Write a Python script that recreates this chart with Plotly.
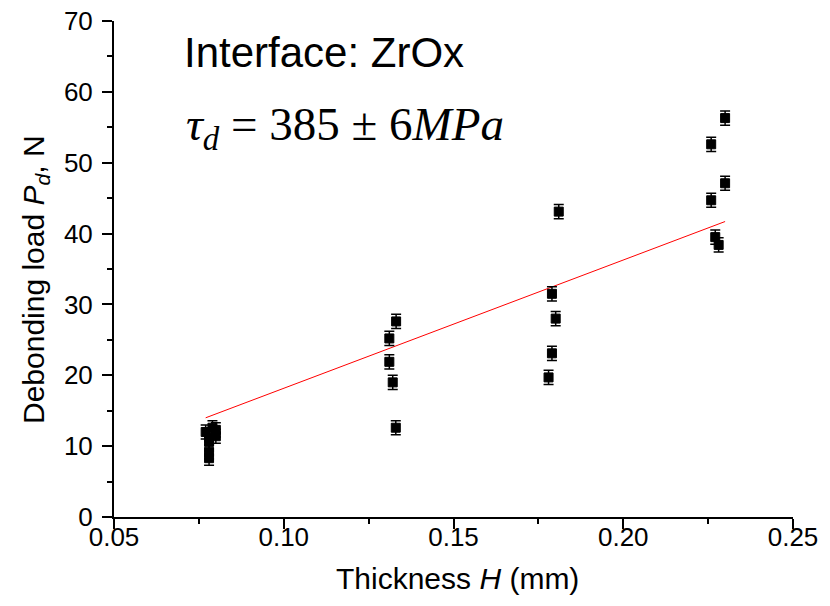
import plotly.graph_objects as go

# Data
thickness = [0.077, 0.078, 0.079, 0.080, 0.080, 0.078, 0.078, 0.078,
             0.1331, 0.1311, 0.1311, 0.1321, 0.1330,
             0.1810, 0.1790, 0.1801, 0.1790, 0.1780,
             0.2300, 0.2259, 0.2300, 0.2259, 0.2271, 0.2281]
load = [12.0, 11.2, 12.6, 12.3, 11.4, 10.6, 9.2, 8.3,
        27.6, 25.2, 21.9, 19.0, 12.6,
        43.1, 31.5, 28.0, 23.1, 19.7,
        56.3, 52.6, 47.1, 44.7, 39.5, 38.4]
load_err = [1.0] * len(load)
fit_x = [0.077, 0.230]
fit_y = [14.0, 41.7]

x_ticks = [0.05, 0.10, 0.15, 0.20, 0.25]
x_tick_labels = ["0.05", "0.10", "0.15", "0.20", "0.25"]
y_ticks = [0, 10, 20, 30, 40, 50, 60, 70]

fig = go.Figure()
fig.add_trace(go.Scatter(
    x=fit_x, y=fit_y, mode="lines",
    line=dict(color="#ff0000", width=1), showlegend=False))
fig.add_trace(go.Scatter(
    x=thickness, y=load, mode="markers",
    marker=dict(symbol="square", size=9, color="black",
                line=dict(color="black", width=1)),
    error_y=dict(type="data", array=load_err, visible=True,
                 color="black", thickness=1.5, width=5),
    showlegend=False))

font = "Liberation Sans, Arial, sans-serif"
L, R, T, B = 114, 37, 21, 89
W, H = 830, 606
pw, ph = W - L - R, H - T - B


def px(xp):
    return (xp - L) / pw


def py(yp):
    return (H - B - yp) / ph


fig.update_layout(
    width=W, height=H,
    margin=dict(l=L, r=R, t=T, b=B, autoexpand=False),
    paper_bgcolor="white", plot_bgcolor="white",
    font=dict(family=font, color="black", size=18),
    xaxis=dict(range=[0.05, 0.25], tickvals=x_ticks, ticktext=x_tick_labels,
               automargin=False,
               showgrid=False, zeroline=False, showline=True,
               linecolor="black", linewidth=2, ticks="outside",
               ticklen=10, tickwidth=1.5, tickcolor="black",
               ticklabelstandoff=-14,
               tickfont=dict(size=26, family=font),
               minor=dict(dtick=0.025, tick0=0.05, ticks="outside", ticklen=5,
                          tickwidth=1.5, tickcolor="black", showgrid=False)),
    yaxis=dict(range=[0, 70], tickvals=y_ticks,
               automargin=False,
               showgrid=False, zeroline=False, showline=True,
               linecolor="black", linewidth=2, ticks="outside",
               ticklen=10, tickwidth=1.5, tickcolor="black",
               ticklabelstandoff=4,
               tickfont=dict(size=26, family=font),
               minor=dict(dtick=5, tick0=0, ticks="outside", ticklen=5,
                          tickwidth=1.5, tickcolor="black", showgrid=False)),
    annotations=[
        dict(text="Interface: ZrOx", x=px(182), y=py(52), xref="paper", yref="paper",
             xanchor="left", yanchor="middle",
             showarrow=False, font=dict(size=42, family=font)),
        dict(text="<i>τ</i><sub><i>d</i></sub> = 385 ± 6<i>MPa</i>",
             x=px(184), y=py(128), xref="paper", yref="paper",
             xanchor="left", yanchor="middle", showarrow=False,
             font=dict(size=47, family="Liberation Serif, Times New Roman, serif")),
        dict(text="Thickness <i>H</i> (mm)", x=px(457), y=py(578),
             xref="paper", yref="paper", xanchor="center", yanchor="middle",
             showarrow=False, font=dict(size=30, family=font)),
        dict(text="Debonding load <i>P</i><sub><i>d</i></sub>, N", x=px(35), y=py(280),
             xref="paper", yref="paper", xanchor="center", yanchor="middle",
             textangle=-90, showarrow=False, font=dict(size=30, family=font)),
    ],
)

fig.write_html("out.html")
